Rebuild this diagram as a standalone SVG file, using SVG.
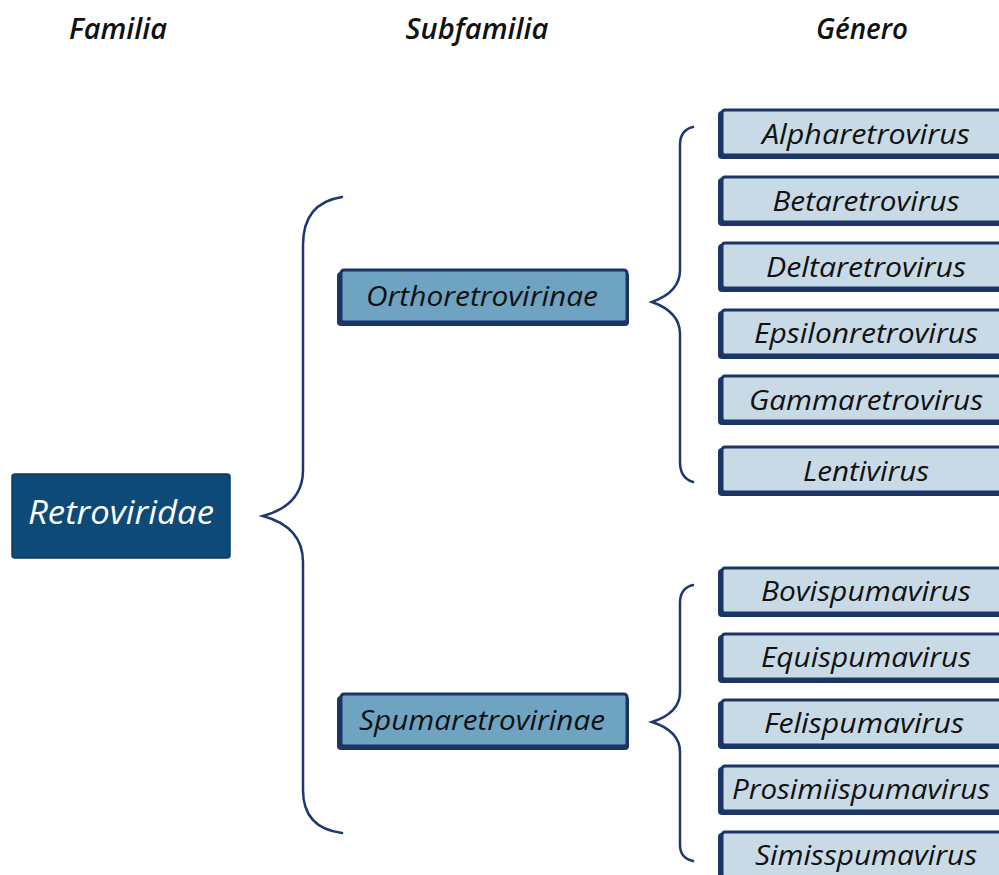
<svg xmlns="http://www.w3.org/2000/svg" width="999" height="875" viewBox="0 0 999 875">
<style>
.hdr{font-family:"Open Sans","Noto Sans",sans-serif;font-style:italic;font-weight:600;font-size:28px;fill:#111;text-anchor:middle}
.gen rect.b{fill:#c8dae6;stroke:#1b3566;stroke-width:3}
.gen rect.s{fill:#1b3566}
.gt{font-family:"Open Sans","Noto Sans",sans-serif;font-style:italic;font-weight:500;font-size:28px;fill:#111;text-anchor:middle}
.sub rect.b{fill:#6ea3c1;stroke:#1b3566;stroke-width:3}
.sub rect.s{fill:#1b3566}
.st{font-family:"Open Sans","Noto Sans",sans-serif;font-style:italic;font-weight:500;font-size:27px;fill:#111;text-anchor:middle}
.br{fill:none;stroke:#1d3870;stroke-width:2.5;stroke-linecap:round}
</style>
<rect width="999" height="875" fill="#fff"/>
<g id="headers">
<text class="hdr" x="118" y="39" textLength="98" lengthAdjust="spacingAndGlyphs">Familia</text>
<text class="hdr" x="477" y="39" textLength="143" lengthAdjust="spacingAndGlyphs">Subfamilia</text>
<text class="hdr" x="862" y="39" textLength="92" lengthAdjust="spacingAndGlyphs">Género</text>
</g>
<g id="connectors">
<path class="br" d="M342,197 Q303,203 303,245 L303,470 Q303,505 263,516 Q303,527 303,562 L303,790 Q303,828 342,833"/>
<path class="br" d="M693,127 Q680,130 680,145 L680,270 Q680,292 652,302 Q680,312 680,334 L680,462 Q680,478 693,482"/>
<path class="br" d="M693,585 Q680,588 680,603 L680,692 Q680,713 652,722 Q680,731 680,752 L680,845 Q680,858 693,861"/>
</g>
<g id="retroviridae">
<rect x="12" y="474" width="218" height="84" rx="3" fill="#0e4a78" stroke="#0a3a62" stroke-width="1.5"/>
<text x="121" y="524" font-family="'Open Sans','Noto Sans',sans-serif" font-style="italic" font-weight="500" font-size="33" fill="#fff" text-anchor="middle" textLength="186" lengthAdjust="spacingAndGlyphs">Retroviridae</text>
</g>
<g id="orthoretrovirinae" class="sub">
<rect class="s" x="337" y="272" width="292" height="54" rx="4"/>
<rect class="b" x="341" y="270" width="286" height="52" rx="3"/>
<text class="st" x="482" y="306" textLength="232" lengthAdjust="spacingAndGlyphs">Orthoretrovirinae</text>
</g>
<g id="spumaretrovirinae" class="sub">
<rect class="s" x="337" y="696" width="292" height="54" rx="4"/>
<rect class="b" x="341" y="694" width="286" height="52" rx="3"/>
<text class="st" x="482" y="730" textLength="246" lengthAdjust="spacingAndGlyphs">Spumaretrovirinae</text>
</g>
<g id="alpharetrovirus" class="gen">
<rect class="s" x="718" y="111" width="290" height="48" rx="4"/>
<rect class="b" x="722" y="110" width="285" height="45" rx="3"/>
<text class="gt" x="866" y="144" textLength="208" lengthAdjust="spacingAndGlyphs">Alpharetrovirus</text>
</g>
<g id="betaretrovirus" class="gen">
<rect class="s" x="718" y="178" width="290" height="48" rx="4"/>
<rect class="b" x="722" y="177" width="285" height="45" rx="3"/>
<text class="gt" x="866" y="211" textLength="187" lengthAdjust="spacingAndGlyphs">Betaretrovirus</text>
</g>
<g id="deltaretrovirus" class="gen">
<rect class="s" x="718" y="244" width="290" height="48" rx="4"/>
<rect class="b" x="722" y="243" width="285" height="45" rx="3"/>
<text class="gt" x="866" y="277" textLength="200" lengthAdjust="spacingAndGlyphs">Deltaretrovirus</text>
</g>
<g id="epsilonretrovirus" class="gen">
<rect class="s" x="718" y="311" width="290" height="48" rx="4"/>
<rect class="b" x="722" y="310" width="285" height="45" rx="3"/>
<text class="gt" x="866" y="343" textLength="224" lengthAdjust="spacingAndGlyphs">Epsilonretrovirus</text>
</g>
<g id="gammaretrovirus" class="gen">
<rect class="s" x="718" y="377" width="290" height="48" rx="4"/>
<rect class="b" x="722" y="376" width="285" height="45" rx="3"/>
<text class="gt" x="866" y="410" textLength="234" lengthAdjust="spacingAndGlyphs">Gammaretrovirus</text>
</g>
<g id="lentivirus" class="gen">
<rect class="s" x="718" y="448" width="290" height="48" rx="4"/>
<rect class="b" x="722" y="447" width="285" height="45" rx="3"/>
<text class="gt" x="866" y="481" textLength="126" lengthAdjust="spacingAndGlyphs">Lentivirus</text>
</g>
<g id="bovispumavirus" class="gen">
<rect class="s" x="718" y="569" width="290" height="48" rx="4"/>
<rect class="b" x="722" y="568" width="285" height="45" rx="3"/>
<text class="gt" x="866" y="601" textLength="210" lengthAdjust="spacingAndGlyphs">Bovispumavirus</text>
</g>
<g id="equispumavirus" class="gen">
<rect class="s" x="718" y="635" width="290" height="48" rx="4"/>
<rect class="b" x="722" y="634" width="285" height="45" rx="3"/>
<text class="gt" x="866" y="667" textLength="210" lengthAdjust="spacingAndGlyphs">Equispumavirus</text>
</g>
<g id="felispumavirus" class="gen">
<rect class="s" x="718" y="701" width="290" height="48" rx="4"/>
<rect class="b" x="722" y="700" width="285" height="45" rx="3"/>
<text class="gt" x="864" y="733" textLength="200" lengthAdjust="spacingAndGlyphs">Felispumavirus</text>
</g>
<g id="prosimiispumavirus" class="gen">
<rect class="s" x="718" y="767" width="290" height="48" rx="4"/>
<rect class="b" x="722" y="766" width="285" height="45" rx="3"/>
<text class="gt" x="861" y="799" textLength="258" lengthAdjust="spacingAndGlyphs">Prosimiispumavirus</text>
</g>
<g id="simisspumavirus" class="gen">
<rect class="s" x="718" y="833" width="290" height="48" rx="4"/>
<rect class="b" x="722" y="832" width="285" height="45" rx="3"/>
<text class="gt" x="866" y="865" textLength="222" lengthAdjust="spacingAndGlyphs">Simisspumavirus</text>
</g>
</svg>
